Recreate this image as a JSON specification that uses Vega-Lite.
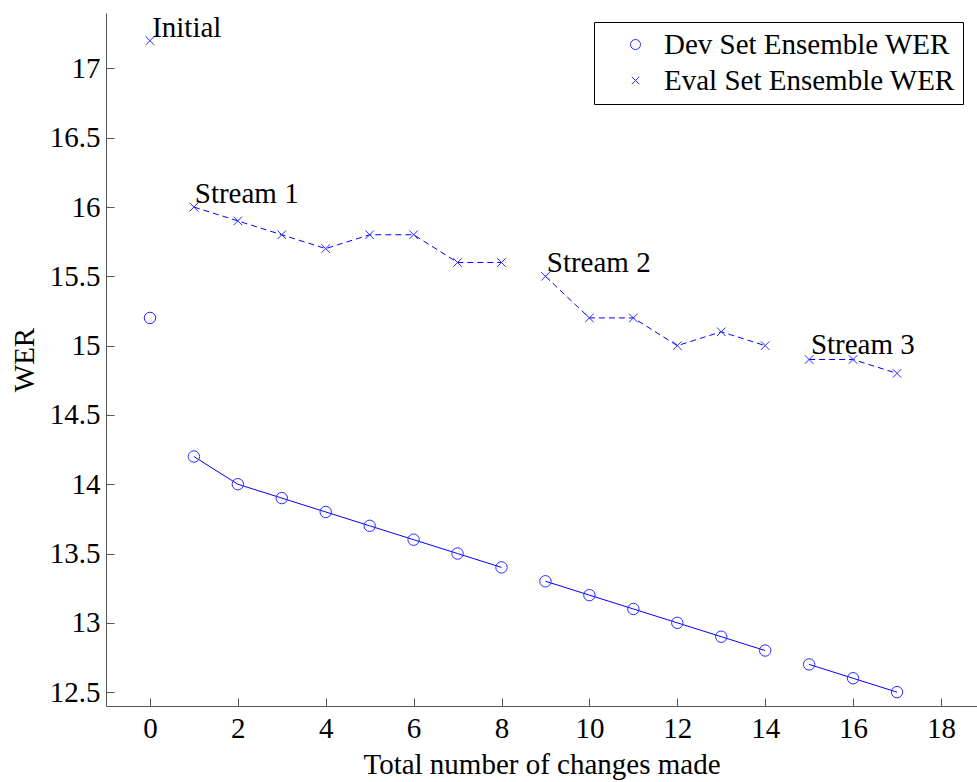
{
  "$schema": "https://vega.github.io/schema/vega-lite/v6.json",
  "width": 871,
  "height": 693,
  "autosize": {"type": "none"},
  "padding": {"left": 106, "top": 13, "right": 0, "bottom": 76},
  "background": "white",
  "config": {
    "view": {"stroke": null},
    "font": "Liberation Serif",
    "axis": {
      "grid": false,
      "domainColor": "#555555",
      "tickColor": "#555555",
      "tickSize": -8,
      "labelFont": "Liberation Serif",
      "labelFontSize": 29,
      "labelColor": "black",
      "titleFont": "Liberation Serif",
      "titleFontSize": 29,
      "titleFontWeight": "normal",
      "titleColor": "black",
      "labelFlush": false,
      "labelOverlap": false
    }
  },
  "datasets": {
    "wer": [
      {"changes": 0, "wer": 15.2, "series": "Dev Set Ensemble WER", "stream": 0},
      {"changes": 1, "wer": 14.2, "series": "Dev Set Ensemble WER", "stream": 1},
      {"changes": 2, "wer": 14.0, "series": "Dev Set Ensemble WER", "stream": 1},
      {"changes": 3, "wer": 13.9, "series": "Dev Set Ensemble WER", "stream": 1},
      {"changes": 4, "wer": 13.8, "series": "Dev Set Ensemble WER", "stream": 1},
      {"changes": 5, "wer": 13.7, "series": "Dev Set Ensemble WER", "stream": 1},
      {"changes": 6, "wer": 13.6, "series": "Dev Set Ensemble WER", "stream": 1},
      {"changes": 7, "wer": 13.5, "series": "Dev Set Ensemble WER", "stream": 1},
      {"changes": 8, "wer": 13.4, "series": "Dev Set Ensemble WER", "stream": 1},
      {"changes": 9, "wer": 13.3, "series": "Dev Set Ensemble WER", "stream": 2},
      {"changes": 10, "wer": 13.2, "series": "Dev Set Ensemble WER", "stream": 2},
      {"changes": 11, "wer": 13.1, "series": "Dev Set Ensemble WER", "stream": 2},
      {"changes": 12, "wer": 13.0, "series": "Dev Set Ensemble WER", "stream": 2},
      {"changes": 13, "wer": 12.9, "series": "Dev Set Ensemble WER", "stream": 2},
      {"changes": 14, "wer": 12.8, "series": "Dev Set Ensemble WER", "stream": 2},
      {"changes": 15, "wer": 12.7, "series": "Dev Set Ensemble WER", "stream": 3},
      {"changes": 16, "wer": 12.6, "series": "Dev Set Ensemble WER", "stream": 3},
      {"changes": 17, "wer": 12.5, "series": "Dev Set Ensemble WER", "stream": 3},
      {"changes": 0, "wer": 17.2, "series": "Eval Set Ensemble WER", "stream": 0},
      {"changes": 1, "wer": 16.0, "series": "Eval Set Ensemble WER", "stream": 1},
      {"changes": 2, "wer": 15.9, "series": "Eval Set Ensemble WER", "stream": 1},
      {"changes": 3, "wer": 15.8, "series": "Eval Set Ensemble WER", "stream": 1},
      {"changes": 4, "wer": 15.7, "series": "Eval Set Ensemble WER", "stream": 1},
      {"changes": 5, "wer": 15.8, "series": "Eval Set Ensemble WER", "stream": 1},
      {"changes": 6, "wer": 15.8, "series": "Eval Set Ensemble WER", "stream": 1},
      {"changes": 7, "wer": 15.6, "series": "Eval Set Ensemble WER", "stream": 1},
      {"changes": 8, "wer": 15.6, "series": "Eval Set Ensemble WER", "stream": 1},
      {"changes": 9, "wer": 15.5, "series": "Eval Set Ensemble WER", "stream": 2},
      {"changes": 10, "wer": 15.2, "series": "Eval Set Ensemble WER", "stream": 2},
      {"changes": 11, "wer": 15.2, "series": "Eval Set Ensemble WER", "stream": 2},
      {"changes": 12, "wer": 15.0, "series": "Eval Set Ensemble WER", "stream": 2},
      {"changes": 13, "wer": 15.1, "series": "Eval Set Ensemble WER", "stream": 2},
      {"changes": 14, "wer": 15.0, "series": "Eval Set Ensemble WER", "stream": 2},
      {"changes": 15, "wer": 14.9, "series": "Eval Set Ensemble WER", "stream": 3},
      {"changes": 16, "wer": 14.9, "series": "Eval Set Ensemble WER", "stream": 3},
      {"changes": 17, "wer": 14.8, "series": "Eval Set Ensemble WER", "stream": 3}
    ],
    "notes": [
      {"changes": 0.05, "wer": 17.23, "label": "Initial"},
      {"changes": 1.02, "wer": 16.03, "label": "Stream 1"},
      {"changes": 9.03, "wer": 15.53, "label": "Stream 2"},
      {"changes": 15.04, "wer": 14.94, "label": "Stream 3"}
    ]
  },
  "encoding": {
    "x": {
      "field": "changes",
      "type": "quantitative",
      "scale": {"domain": [-1, 18.82], "nice": false, "zero": false},
      "axis": {
        "title": "Total number of changes made",
        "values": [0, 2, 4, 6, 8, 10, 12, 14, 16, 18],
        "labelPadding": 16,
        "titlePadding": 7
      }
    },
    "y": {
      "field": "wer",
      "type": "quantitative",
      "scale": {"domain": [12.4, 17.4], "nice": false, "zero": false},
      "axis": {
        "title": "WER",
        "values": [12.5, 13, 13.5, 14, 14.5, 15, 15.5, 16, 16.5, 17],
        "format": "~g",
        "labelPadding": 14,
        "titlePadding": 10
      }
    }
  },
  "layer": [
    {
      "data": {"name": "wer"},
      "transform": [{"filter": {"field": "series", "equal": "Dev Set Ensemble WER"}}],
      "mark": {"type": "line", "color": "#0000ff", "strokeWidth": 1},
      "encoding": {"detail": {"field": "stream", "type": "nominal"}}
    },
    {
      "data": {"name": "wer"},
      "transform": [{"filter": {"field": "series", "equal": "Eval Set Ensemble WER"}}],
      "mark": {"type": "line", "color": "#0000ff", "strokeWidth": 1, "strokeDash": [6, 4]},
      "encoding": {"detail": {"field": "stream", "type": "nominal"}}
    },
    {
      "data": {"name": "wer"},
      "mark": {"type": "point", "filled": false, "color": "#2a2aff", "stroke": "#2a2aff", "strokeWidth": 1, "opacity": 1, "size": 130},
      "encoding": {
        "shape": {
          "field": "series",
          "type": "nominal",
          "scale": {
            "domain": ["Dev Set Ensemble WER", "Eval Set Ensemble WER"],
            "range": ["circle", "M-0.75,-0.75L0.75,0.75M-0.75,0.75L0.75,-0.75"]
          },
          "legend": {
            "title": null,
            "orient": "none",
            "legendX": 488,
            "legendY": 9,
            "strokeColor": "black",
            "fillColor": "white",
            "padding": 8,
            "symbolOffset": 19,
            "labelOffset": 14,
            "rowPadding": 6,
            "labelFont": "Liberation Serif",
            "labelFontSize": 29,
            "labelColor": "black",
            "labelLimit": 600,
            "symbolSize": 100,
            "symbolStrokeColor": "#2a2aff",
            "symbolStrokeWidth": 1,
            "symbolFillColor": "transparent"
          }
        }
      }
    },
    {
      "data": {"name": "notes"},
      "mark": {"type": "text", "align": "left", "baseline": "alphabetic", "fontSize": 29, "font": "Liberation Serif", "color": "black"},
      "encoding": {"text": {"field": "label", "type": "nominal"}}
    }
  ]
}
